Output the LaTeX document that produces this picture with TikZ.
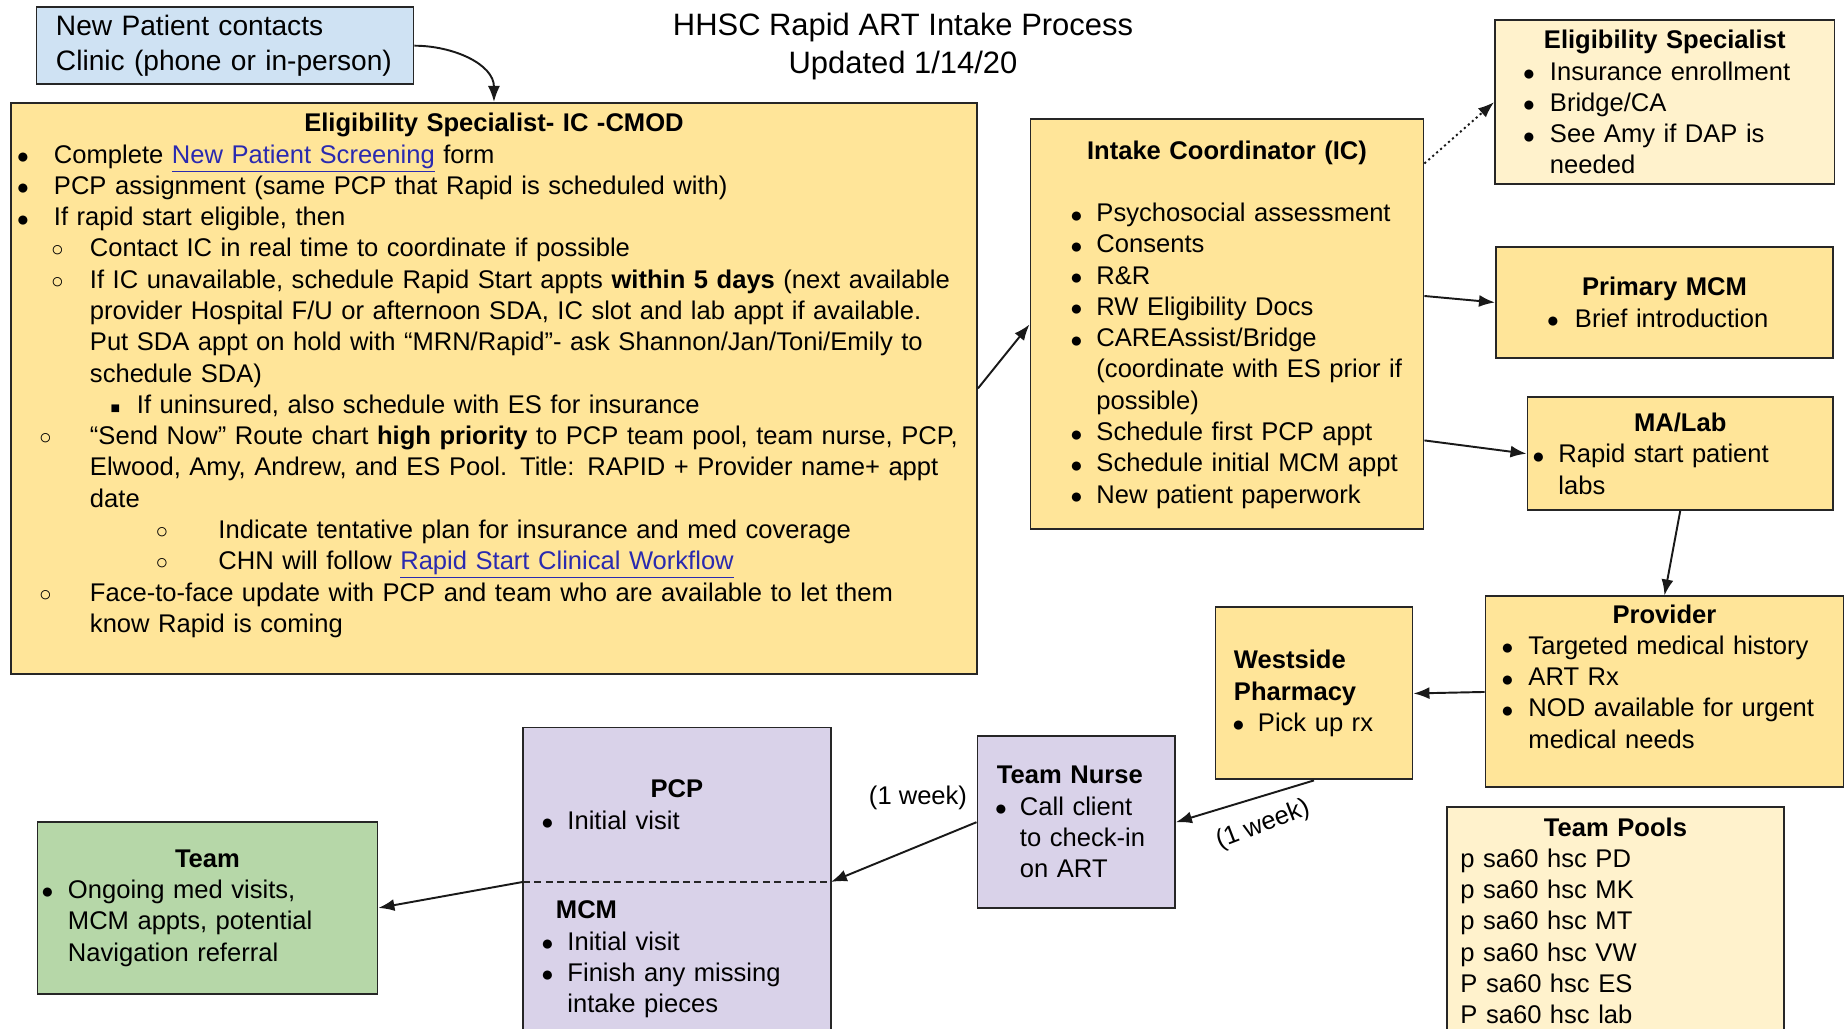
\documentclass[tikz,border=0pt]{standalone}
\usepackage{fontspec}
\setmainfont{Liberation Sans}
\usepackage{xcolor}
\usetikzlibrary{arrows.meta,positioning}

\definecolor{npblue}{HTML}{CFE2F3}
\definecolor{esgold}{HTML}{FFE599}
\definecolor{escream}{HTML}{FFF2CC}
\definecolor{nurselav}{HTML}{D9D2E9}
\definecolor{teamgreen}{HTML}{B6D7A8}
\definecolor{linkblue}{HTML}{2A2AB0}

\newcommand{\bodyfont}{\fontsize{14.55}{17.8}\selectfont}
\newcommand{\itm}[3]{\makebox[#3cm][l]{\hspace*{#1cm}\makebox[0pt]{#2}}}
\newcommand{\bul}[4]{\mbox{\itm{#1}{#2}{#3}#4}}
\newcommand{\cnt}[2]{\mbox{\hspace*{#1cm}#2}}
\newcommand{\hd}[1]{\makebox[\hsize]{\bfseries #1}}
\newcommand{\lnk}[1]{\textcolor{linkblue}{\underline{#1}}}
\newcommand{\dotm}{\raisebox{-0.3pt}{\fontsize{12}{12}\selectfont ●}}
\newcommand{\ring}{{\fontsize{12}{12}\selectfont ○}}
\newcommand{\sqm}{{\fontsize{9}{9}\selectfont ■}}

\tikzset{
  card/.style={draw=black!85, line width=1.1pt, anchor=north west, inner ysep=0pt, align=left, font=\bodyfont},
  flow/.style={-{Latex[length=3.2mm,width=2.4mm]}, line width=1.1pt, black!90},
}

\begin{document}
\begin{tikzpicture}
      \useasboundingbox (0,0) rectangle (36.94,20.58);
      \fill[white] (0,0) rectangle (36.94,20.58);
      \clip (0,0) rectangle (36.94,20.58);
      % Title
      \node[align=center, font=\fontsize{17.6}{21.5}\selectfont] (title) at (18.06,19.65) {HHSC Rapid ART Intake Process\\Updated 1/14/20};
      % New patient
      \node[card, fill=npblue, minimum width=7.54cm, minimum height=1.55cm, inner xsep=0.39cm, text width=6.76cm,
            font=\fontsize{16}{19.9}\selectfont] (np) at (0.71,20.46) {\mbox{New Patient contacts}\\\mbox{Clinic (phone or in-person)}};
      % Eligibility specialist - IC - CMOD
      \node[card, fill=esgold, minimum width=19.32cm, minimum height=11.42cm, inner xsep=0.2cm, text width=18.92cm] (esc) at (0.2,18.54) {%
        \hd{Eligibility Specialist- IC -CMOD}\\
        \bul{0.04}{\dotm}{0.66}{Complete \lnk{New Patient Screening} form}\\
        \bul{0.04}{\dotm}{0.66}{PCP assignment (same PCP that Rapid is scheduled with)}\\
        \bul{0.04}{\dotm}{0.66}{If rapid start eligible, then}\\
        \bul{0.73}{\ring}{1.38}{Contact IC in real time to coordinate if possible}\\
        \bul{0.73}{\ring}{1.38}{If IC unavailable, schedule Rapid Start appts \textbf{within 5 days} (next available}\\
        \cnt{1.38}{provider Hospital F/U or afternoon SDA, IC slot and lab appt if available.}\\
        \cnt{1.38}{Put SDA appt on hold with “MRN/Rapid”- ask Shannon/Jan/Toni/Emily to}\\
        \cnt{1.38}{schedule SDA)}\\
        \bul{1.89}{\sqm}{2.32}{If uninsured, also schedule with ES for insurance}\\
        \bul{0.49}{\ring}{1.38}{“Send Now” Route chart \textbf{high priority} to PCP team pool, team nurse, PCP,}\\
        \cnt{1.38}{Elwood, Amy, Andrew, and ES Pool. Title: RAPID + Provider name+ appt}\\
        \cnt{1.38}{date}\\
        \bul{2.82}{\ring}{3.95}{Indicate tentative plan for insurance and med coverage}\\
        \bul{2.82}{\ring}{3.95}{CHN will follow \lnk{Rapid Start Clinical Workflow}}\\
        \bul{0.49}{\ring}{1.38}{Face-to-face update with PCP and team who are available to let them}\\
        \cnt{1.38}{know Rapid is coming}\\
        ~};
      % Intake coordinator
      \node[card, fill=esgold, minimum width=7.86cm, minimum height=8.2cm, inner xsep=0.8cm, text width=6.26cm] (ic) at (20.59,18.21) {%
        \hd{Intake Coordinator (IC)}\\
        ~\\
        \bul{0.12}{\dotm}{0.52}{Psychosocial assessment}\\
        \bul{0.12}{\dotm}{0.52}{Consents}\\
        \bul{0.12}{\dotm}{0.52}{R\&R}\\
        \bul{0.12}{\dotm}{0.52}{RW Eligibility Docs}\\
        \bul{0.12}{\dotm}{0.52}{CAREAssist/Bridge}\\
        \cnt{0.52}{(coordinate with ES prior if}\\
        \cnt{0.52}{possible)}\\
        \bul{0.12}{\dotm}{0.52}{Schedule first PCP appt}\\
        \bul{0.12}{\dotm}{0.52}{Schedule initial MCM appt}\\
        \bul{0.12}{\dotm}{0.52}{New patient paperwork}};
      % Right column
      \node[card, fill=escream, minimum width=6.79cm, minimum height=3.27cm, inner xsep=0.56cm, text width=5.67cm] (esl) at (29.88,20.19) {%
        \hd{Eligibility Specialist}\\
        \bul{0.12}{\dotm}{0.54}{Insurance enrollment}\\
        \bul{0.12}{\dotm}{0.54}{Bridge/CA}\\
        \bul{0.12}{\dotm}{0.54}{See Amy if DAP is}\\
        \cnt{0.54}{needed}};
      \node[card, fill=esgold, minimum width=6.74cm, minimum height=2.22cm, inner xsep=1.02cm, text width=4.7cm] (pm) at (29.9,15.66) {%
        \hd{Primary MCM}\\
        \bul{0.12}{\dotm}{0.56}{Brief introduction}};
      \node[card, fill=esgold, minimum width=6.11cm, minimum height=2.25cm, inner xsep=0.1cm, text width=5.91cm] (ma) at (30.53,12.65) {%
        \hd{MA/Lab}\\
        \bul{0.12}{\dotm}{0.52}{Rapid start patient}\\
        \cnt{0.52}{labs}};
      \node[card, fill=esgold, minimum width=7.16cm, minimum height=3.82cm, inner xsep=0.32cm, text width=6.52cm] (prov) at (29.69,8.67) {%
        \hd{Provider}\\
        \bul{0.12}{\dotm}{0.54}{Targeted medical history}\\
        \bul{0.12}{\dotm}{0.54}{ART Rx}\\
        \bul{0.12}{\dotm}{0.54}{NOD available for urgent}\\
        \cnt{0.54}{medical needs}\\
        ~};
      \node[card, fill=esgold, minimum width=3.94cm, minimum height=3.44cm, inner xsep=0.37cm, text width=3.2cm] (ws) at (24.29,8.45) {%
        \textbf{Westside}\\
        \textbf{Pharmacy}\\
        \bul{0.09}{\dotm}{0.48}{Pick up rx}};
      \node[card, fill=escream, minimum width=6.74cm, minimum height=4.53cm, inner xsep=0.27cm, text width=6.2cm] (pools) at (28.92,4.45) {%
        \hd{Team Pools}\\
        p sa60 hsc PD\\
        p sa60 hsc MK\\
        p sa60 hsc MT\\
        p sa60 hsc VW\\
        P sa60 hsc ES\\
        P sa60 hsc lab};
      % Bottom row
      \node[card, fill=nurselav, minimum width=3.95cm, minimum height=3.43cm, inner xsep=0.39cm, text width=3.17cm] (tn) at (19.53,5.87) {%
        \mbox{\textbf{Team Nurse}}\\
        \bul{0.08}{\dotm}{0.46}{Call client}\\
        \cnt{0.46}{to check-in}\\
        \cnt{0.46}{on ART}};
      \node[card, draw=none, fill=nurselav, minimum width=6.12cm, minimum height=3.05cm, inner xsep=0.36cm, text width=5.4cm] (pcp) at (10.46,6.03) {%
        \hd{PCP}\\
        \bul{0.11}{\dotm}{0.51}{Initial visit}};
      \node[card, draw=none, fill=nurselav, minimum width=6.12cm, minimum height=3.14cm, inner xsep=0.36cm, text width=5.4cm] (mcm) at (10.46,2.98) {%
        \hspace*{0.28cm}\textbf{MCM}\\
        \bul{0.11}{\dotm}{0.51}{Initial visit}\\
        \bul{0.11}{\dotm}{0.51}{Finish any missing}\\
        \cnt{0.51}{intake pieces}};
      \draw[draw=black!85, line width=1.1pt] (pcp.north west) rectangle (mcm.south east);
      \draw[black!85, line width=1.1pt, dash pattern=on 4pt off 2.5pt] (pcp.south west) -- (pcp.south east);
      \node[card, fill=teamgreen, minimum width=6.8cm, minimum height=3.44cm, inner xsep=0.09cm, text width=6.62cm] (team) at (0.73,4.16) {%
        \hd{Team}\\
        \bul{0.11}{\dotm}{0.52}{Ongoing med visits,}\\
        \cnt{0.52}{MCM appts, potential}\\
        \cnt{0.52}{Navigation referral}};
      % Week labels
      \node[font=\bodyfont] (wk1) at (18.36,4.63) {(1 week)};
      \node[font=\bodyfont, rotate=21] (wk2) at (25.26,4.08) {(1 week)};
      % Connectors
      \draw[flow] (np.east) to[out=0, in=90] (esc.north);
      \draw[flow] (esc.east) -- (ic.west);
      \draw[flow, dash pattern=on 1.2pt off 1.8pt] ([yshift=-0.9cm]ic.north east) -- (esl.west);
      \draw[flow] ([yshift=-3.55cm]ic.north east) -- (pm.west);
      \draw[flow] ([yshift=1.8cm]ic.south east) -- (ma.west);
      \draw[flow] (ma.south) -- (prov.north);
      \draw[flow] (prov.west) -- (ws.east);
      \draw[flow] (ws.south) -- (tn.east);
      \draw[flow] (tn.west) -- (pcp.south east);
      \draw[flow] (pcp.south west) -- (team.east);
    \end{tikzpicture}
\end{document}
